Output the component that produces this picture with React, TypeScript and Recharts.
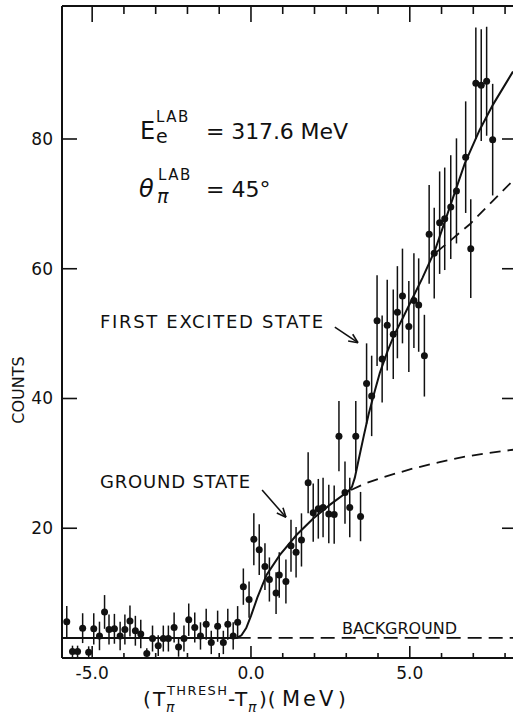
import React from 'react';
import { ComposedChart, Scatter, XAxis, YAxis, ErrorBar, ReferenceLine } from 'recharts';

// ---- measured data points (pion kinetic energy offset, counts, error) ----
const energyMeV = [
  -5.80, -5.62, -5.46, -5.30, -5.11, -4.95, -4.77, -4.61, -4.47, -4.30,
  -4.12, -3.97, -3.81, -3.64, -3.47, -3.28, -3.10, -2.92, -2.76, -2.60,
  -2.42, -2.28, -2.11, -1.96, -1.77, -1.59, -1.41, -1.25, -1.05, -0.87,
  -0.73, -0.56, -0.42, -0.24, -0.06, 0.09, 0.26, 0.44, 0.58, 0.79,
  0.89, 1.10, 1.26, 1.42, 1.59, 1.80, 1.96, 2.12, 2.27, 2.45,
  2.62, 2.77, 2.96, 3.11, 3.30, 3.45, 3.64, 3.80, 3.97, 4.13,
  4.29, 4.48, 4.61, 4.77, 4.97, 5.13, 5.28, 5.46, 5.61, 5.77,
  5.94, 6.10, 6.29, 6.47, 6.76, 6.92, 7.08, 7.25, 7.42, 7.61,
];
const counts = [
  5.6, 1.0, 1.0, 4.6, 0.9, 4.5, 3.4, 7.1, 4.4, 4.5,
  3.4, 4.4, 5.7, 4.2, 3.7, 0.7, 3.0, 1.9, 3.0, 3.0,
  4.7, 1.7, 3.0, 5.9, 4.7, 3.4, 5.2, 2.4, 4.9, 2.4,
  5.2, 3.4, 5.5, 11.0, 9.0, 18.3, 16.7, 14.1, 12.1, 10.0,
  12.8, 11.8, 17.3, 16.3, 18.2, 27.0, 22.4, 23.0, 23.2, 22.2,
  22.1, 34.2, 25.5, 23.2, 34.2, 21.8, 42.3, 40.4, 52.0, 46.1,
  51.3, 49.9, 53.3, 55.8, 51.1, 55.1, 54.4, 46.6, 65.3, 62.4,
  67.1, 67.7, 69.5, 72.0, 77.2, 63.1, 88.6, 88.3, 88.9, 79.9,
];
const countErrors = [
  2.4, 0.9, 0.9, 2.3, 0.9, 2.4, 2.2, 2.6, 2.3, 2.3,
  2.2, 2.3, 2.4, 2.3, 2.2, 0.8, 2.0, 1.6, 2.0, 2.0,
  2.3, 1.5, 2.0, 2.5, 2.3, 2.1, 2.4, 1.8, 2.4, 1.8,
  2.4, 2.1, 2.5, 2.8, 2.8, 4.0, 3.9, 3.6, 3.4, 3.2,
  3.5, 3.4, 4.0, 3.9, 4.1, 4.7, 4.5, 4.6, 4.6, 4.5,
  4.5, 5.4, 4.8, 4.6, 5.4, 3.8, 6.2, 6.2, 7.0, 6.7,
  7.0, 6.9, 7.1, 7.3, 7.0, 7.3, 7.2, 6.3, 7.6, 7.0,
  7.9, 7.9, 8.0, 8.1, 8.6, 7.6, 8.6, 8.6, 8.4, 8.6,
];

// ---- fitted curves ----
const totalFitX = [-5.95, -0.45, -0.3, -0.15, 0.0, 0.2, 0.49, 0.91, 1.44, 1.96, 2.48, 3.06, 3.18, 3.27, 3.4, 3.55, 3.7, 3.9, 4.06, 4.3, 4.5, 4.8, 5.05, 5.4, 5.79, 6.26, 6.73, 7.2, 7.62, 8.25];
const totalFitY = [3.1, 3.1, 3.5, 4.6, 6.5, 9.3, 12.8, 15.9, 19.0, 21.5, 23.6, 25.7, 26.4, 27.8, 30.8, 34.2, 37.5, 41.2, 44.0, 47.3, 49.7, 52.6, 55.1, 58.6, 62.8, 69.5, 76.2, 81.4, 85.3, 90.4];
const groundFitX = [3.15, 3.6, 4.06, 4.6, 5.1, 5.94, 6.7, 7.5, 8.25];
const groundFitY = [25.9, 26.9, 27.7, 28.5, 29.2, 30.2, 31.0, 31.6, 32.1];
const excitedFitX = [5.85, 6.9, 7.6, 8.25];
const excitedFitY = [62.6, 66.9, 70.4, 73.6];
const backgroundX = [-0.45, 8.25];
const backgroundY = [3.1, 3.1];

// ---- axes ----
const xTicks = [-5, -4, -3, -2, -1, 0, 1, 2, 3, 4, 5, 6, 7, 8];
const xLabeledTicks = [-5, 0, 5];
const yTicks = [20, 40, 60, 80];
const xDomain: [number, number] = [-5.95, 8.25];
const yDomain: [number, number] = [0, 100.5];

// ---- annotation arrows (data coordinates) ----
const groundArrow = [{ x: 0.35, y: 25.9 }, { x: 1.10, y: 21.7 }];
const excitedArrow = [{ x: 2.64, y: 51.0 }, { x: 3.37, y: 48.6 }];

const INK = '#111';
const FONT = '"DejaVu Sans", "Liberation Sans", sans-serif';

const toXY = (xs: number[], ys: number[]) => xs.map((x, i) => ({ x, y: ys[i] }));
const points = energyMeV.map((x, i) => ({ x, y: counts[i], err: countErrors[i] }));
const totalFit = toXY(totalFitX, totalFitY);
const groundFit = toXY(groundFitX, groundFitY);
const excitedFit = toXY(excitedFitX, excitedFitY);
const background = toXY(backgroundX, backgroundY);

const BottomTick = (p: any) => {
  const { x, y, payload } = p;
  const major = xLabeledTicks.includes(payload.value);
  return (
    <g>
      <line x1={x} y1={y} x2={x} y2={y - (major ? 12 : 5)} stroke={INK} strokeWidth={1.6} />
      {major && (
        <text x={x} y={y + 21} textAnchor="middle" fontSize={17} fontFamily={FONT} fill={INK}>
          {payload.value.toFixed(1)}
        </text>
      )}
    </g>
  );
};

const TopTick = (p: any) => {
  const { x, y, payload } = p;
  const major = xLabeledTicks.includes(payload.value);
  return <line x1={x} y1={y} x2={x} y2={y + (major ? 16 : 8)} stroke={INK} strokeWidth={1.6} />;
};

const LeftTick = (p: any) => {
  const { x, y, payload } = p;
  return (
    <g>
      <line x1={x} y1={y} x2={x + 15} y2={y} stroke={INK} strokeWidth={1.6} />
      <text x={x - 9} y={y + 6} textAnchor="end" fontSize={17} fontFamily={FONT} fill={INK}>
        {payload.value}
      </text>
    </g>
  );
};

const RightTick = (p: any) => {
  const { x, y } = p;
  return <line x1={x} y1={y} x2={x - 11} y2={y} stroke={INK} strokeWidth={1.6} />;
};

const Arrow = (p: any) => {
  const { x1, y1, x2, y2 } = p;
  const ang = Math.atan2(y2 - y1, x2 - x1);
  const L = 10;
  const a = 0.42;
  return (
    <g stroke={INK} strokeWidth={1.6} fill="none">
      <line x1={x1} y1={y1} x2={x2} y2={y2} />
      <line x1={x2} y1={y2} x2={x2 - L * Math.cos(ang - a)} y2={y2 - L * Math.sin(ang - a)} />
      <line x1={x2} y1={y2} x2={x2 - L * Math.cos(ang + a)} y2={y2 - L * Math.sin(ang + a)} />
    </g>
  );
};

const Dot = (p: any) => <circle cx={p.cx} cy={p.cy} r={3.5} fill={INK} />;
const NoDot = () => <g />;

const txt = { fontFamily: FONT, fill: INK } as const;

export default function App() {
  return (
    <div style={{ position: 'absolute', left: 0, top: 0, width: 514, height: 717, background: '#fff' }}>
      <ComposedChart width={514} height={717} margin={{ top: 5, right: 0, bottom: 29, left: 0 }}>
        <XAxis
          xAxisId="b" dataKey="x" type="number" domain={xDomain} ticks={xTicks} interval={0}
          allowDataOverflow height={30} tickSize={0} tickMargin={0} tick={<BottomTick />}
          axisLine={{ stroke: INK, strokeWidth: 2 }} tickLine={false}
        />
        <XAxis
          xAxisId="t" orientation="top" dataKey="x" type="number" domain={xDomain} ticks={xTicks} interval={0}
          allowDataOverflow height={1} tickSize={0} tickMargin={0} tick={<TopTick />}
          axisLine={{ stroke: INK, strokeWidth: 2 }} tickLine={false}
        />
        <YAxis
          yAxisId="l" dataKey="y" type="number" domain={yDomain} ticks={yTicks} interval={0}
          allowDataOverflow width={62} tickSize={0} tickMargin={0} tick={<LeftTick />}
          axisLine={{ stroke: INK, strokeWidth: 2 }} tickLine={false}
        />
        <YAxis
          yAxisId="r" orientation="right" dataKey="y" type="number" domain={yDomain} ticks={yTicks} interval={0}
          allowDataOverflow width={1} tickSize={0} tickMargin={0} tick={<RightTick />}
          axisLine={false} tickLine={false}
        />

        <Scatter xAxisId="b" yAxisId="l" data={background} fill={INK} shape={<NoDot />}
          line={{ stroke: INK, strokeWidth: 1.8, strokeDasharray: '14 7' }} isAnimationActive={false} />
        <Scatter xAxisId="b" yAxisId="l" data={groundFit} fill={INK} shape={<NoDot />}
          line={{ stroke: INK, strokeWidth: 1.8, strokeDasharray: '11 7' }} isAnimationActive={false} />
        <Scatter xAxisId="b" yAxisId="l" data={excitedFit} fill={INK} shape={<NoDot />}
          line={{ stroke: INK, strokeWidth: 1.8, strokeDasharray: '11 7' }} isAnimationActive={false} />
        <Scatter xAxisId="b" yAxisId="l" data={totalFit} fill={INK} shape={<NoDot />}
          line={{ stroke: INK, strokeWidth: 2 }} isAnimationActive={false} />

        <Scatter xAxisId="b" yAxisId="l" data={points} fill={INK} shape={<Dot />} isAnimationActive={false}>
          <ErrorBar dataKey="err" direction="y" width={0} stroke={INK} strokeWidth={1.5} />
        </Scatter>

        <ReferenceLine xAxisId="b" yAxisId="l" segment={groundArrow} shape={<Arrow />} ifOverflow="visible" />
        <ReferenceLine xAxisId="b" yAxisId="l" segment={excitedArrow} shape={<Arrow />} ifOverflow="visible" />

        <g>
          {/* energy / angle legend */}
          <text x={140} y={139} fontSize={24} {...txt}>E</text>
          <text x={156} y={122} fontSize={15} letterSpacing={1.5} {...txt}>LAB</text>
          <text x={156} y={143} fontSize={19} {...txt}>e</text>
          <text x={206} y={139} fontSize={22} textLength={142} lengthAdjust="spacing" {...txt}>= 317.6 MeV</text>

          <text x={139} y={197} fontSize={24} fontStyle="italic" {...txt}>θ</text>
          <text x={158} y={180} fontSize={15} letterSpacing={1.5} {...txt}>LAB</text>
          <text x={157} y={203} fontSize={19} fontStyle="italic" {...txt}>π</text>
          <text x={206} y={197} fontSize={22} {...txt}>= 45°</text>

          <text x={100} y={328} fontSize={18} textLength={223} lengthAdjust="spacing" {...txt}>FIRST EXCITED STATE</text>
          <text x={100} y={488} fontSize={18} textLength={150} lengthAdjust="spacing" {...txt}>GROUND STATE</text>
          <text x={342} y={634} fontSize={16} textLength={115} lengthAdjust="spacing" {...txt}>BACKGROUND</text>

          {/* y axis title */}
          <text transform="translate(24,390) rotate(-90)" x={0} y={0} textAnchor="middle" fontSize={16} {...txt}>COUNTS</text>

          {/* x axis title */}
          <text x={143} y={706} fontSize={20} {...txt}>(</text>
          <text x={153} y={706} fontSize={20} {...txt}>T</text>
          <text x={167} y={695} fontSize={13} textLength={60} lengthAdjust="spacing" {...txt}>THRESH</text>
          <text x={166} y={712} fontSize={14} fontStyle="italic" {...txt}>π</text>
          <text x={228} y={706} fontSize={20} {...txt}>-</text>
          <text x={235} y={706} fontSize={20} {...txt}>T</text>
          <text x={248} y={712} fontSize={14} fontStyle="italic" {...txt}>π</text>
          <text x={259} y={706} fontSize={20} letterSpacing={1} {...txt}>)(</text>
          <text x={282} y={706} fontSize={21} letterSpacing={3} {...txt}>MeV</text>
          <text x={338} y={706} fontSize={20} {...txt}>)</text>
        </g>
      </ComposedChart>
    </div>
  );
}
